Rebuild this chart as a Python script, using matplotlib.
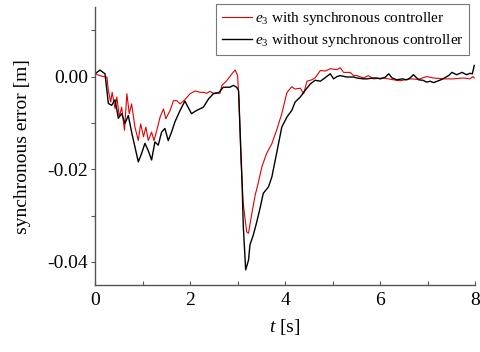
import matplotlib
matplotlib.use("Agg")
import matplotlib.pyplot as plt
from matplotlib.ticker import MultipleLocator

plt.rcParams['font.family'] = ['Liberation Serif', 'DejaVu Serif']
plt.rcParams['mathtext.fontset'] = 'custom'
plt.rcParams['mathtext.rm'] = 'Liberation Serif'
plt.rcParams['mathtext.it'] = 'Liberation Serif:italic'
plt.rcParams['axes.unicode_minus'] = False

# e3 without synchronous controller (black)
t_without = [0, 0.105, 0.21, 0.28, 0.35, 0.42, 0.49, 0.56, 0.63, 0.70, 0.77, 0.84,
             0.91, 0.98, 1.05, 1.12, 1.19, 1.26, 1.33, 1.40, 1.47, 1.54, 1.61, 1.68,
             1.79, 1.89, 2.03, 2.14, 2.28, 2.39, 2.49, 2.60, 2.70, 2.84, 2.91, 2.98,
             3.02, 3.05, 3.09, 3.12, 3.17, 3.23, 3.26, 3.33, 3.40, 3.47, 3.54, 3.65,
             3.72, 3.82, 3.93, 4.04, 4.14, 4.21, 4.32, 4.42, 4.53, 4.63, 4.74, 4.81,
             4.95, 5.02, 5.09, 5.16, 5.30, 5.44, 5.51, 5.65, 5.72, 5.86, 5.93, 6.00,
             6.10, 6.18, 6.25, 6.35, 6.46, 6.56, 6.63, 6.70, 6.81, 6.90, 6.98, 7.05,
             7.12, 7.23, 7.30, 7.37, 7.44, 7.51, 7.61, 7.68, 7.72, 7.82, 7.89, 7.94, 7.98]
e_without = [0.0006, 0.0014, 0.0006, -0.0058, -0.0062, -0.0050, -0.0090, -0.0080,
             -0.0101, -0.0084, -0.0120, -0.0152, -0.0184, -0.0166, -0.0144, -0.0160,
             -0.0180, -0.0141, -0.0148, -0.0120, -0.0112, -0.0138, -0.0120, -0.0098,
             -0.0073, -0.0053, -0.0080, -0.0073, -0.0066, -0.0048, -0.0037, -0.0035,
             -0.0023, -0.0023, -0.0019, -0.0023, -0.0030, -0.0110, -0.0217, -0.0324,
             -0.0417, -0.0396, -0.0363, -0.0342, -0.0315, -0.0285, -0.0252, -0.0238,
             -0.0217, -0.0166, -0.0109, -0.0087, -0.0073, -0.0055, -0.0044, -0.0030,
             -0.0016, -0.0008, -0.0010, -0.0005, 0.0006, -0.0005, 0.0000, 0.0002,
             -0.0001, -0.0001, -0.0003, -0.0005, -0.0005, -0.0003, -0.0003, -0.0005,
             -0.0002, 0.0006, -0.0003, -0.0007, -0.0005, -0.0007, -0.0003, 0.0004,
             -0.0007, -0.0008, -0.0012, -0.0010, -0.0013, -0.0009, -0.0006, -0.0002,
             0.0002, 0.0009, 0.0004, 0.0007, 0.0009, 0.0004, 0.0007, 0.0006, 0.0024]

# e3 with synchronous controller (red)
t_with = [0, 0.10, 0.18, 0.25, 0.28, 0.33, 0.36, 0.42, 0.46, 0.51, 0.56, 0.62, 0.67,
          0.72, 0.77, 0.84, 0.91, 0.96, 1.02, 1.07, 1.12, 1.19, 1.24, 1.30, 1.37,
          1.44, 1.49, 1.58, 1.65, 1.72, 1.79, 1.89, 2.00, 2.11, 2.21, 2.28, 2.35,
          2.42, 2.49, 2.56, 2.63, 2.67, 2.77, 2.88, 2.95, 3.00, 3.03, 3.07, 3.12,
          3.19, 3.23, 3.30, 3.37, 3.44, 3.51, 3.61, 3.72, 3.82, 3.93, 4.04, 4.14,
          4.21, 4.32, 4.39, 4.46, 4.56, 4.63, 4.74, 4.85, 4.95, 5.09, 5.16, 5.23,
          5.37, 5.44, 5.51, 5.65, 5.75, 5.86, 6.07, 6.28, 6.42, 6.63, 6.80, 6.98,
          7.12, 7.33, 7.54, 7.75, 7.89, 7.95, 7.98]
e_with = [0.0006, 0.0002, 0.0000, -0.0001, -0.0030, -0.0055, -0.0034, -0.0069,
          -0.0044, -0.0087, -0.0066, -0.0116, -0.0037, -0.0080, -0.0059, -0.0109,
          -0.0138, -0.0102, -0.0130, -0.0109, -0.0138, -0.0120, -0.0138, -0.0116,
          -0.0087, -0.0070, -0.0091, -0.0073, -0.0052, -0.0052, -0.0059, -0.0050,
          -0.0037, -0.0031, -0.0034, -0.0034, -0.0036, -0.0032, -0.0036, -0.0035,
          -0.0036, -0.0019, -0.0009, 0.0006, 0.0014, 0.0002, -0.0052, -0.0180,
          -0.0274, -0.0335, -0.0338, -0.0295, -0.0256, -0.0227, -0.0195, -0.0166,
          -0.0145, -0.0116, -0.0080, -0.0034, -0.0022, -0.0027, -0.0025, -0.0037,
          -0.0010, -0.0007, -0.0003, 0.0013, 0.0012, 0.0017, 0.0015, 0.0019, 0.0009,
          0.0009, 0.0002, 0.0002, -0.0003, 0.0002, -0.0005, -0.0003, -0.0007,
          -0.0009, -0.0005, -0.0006, 0.0000, -0.0003, -0.0005, -0.0005, -0.0003,
          -0.0005, 0.0000, -0.0003]

fig = plt.figure(figsize=(4.8, 3.52), dpi=100)
ax = fig.add_axes([0.198, 0.19, 0.792, 0.79])

ax.plot(t_with, e_with, color='#e00000', lw=0.8,
        label=r'$e_3$ with synchronous controller')
ax.plot(t_without, e_without, color='black', lw=1.0,
        label=r'$e_3$ without synchronous controller')

ax.set_xlim(0, 8)
ax.set_ylim(-0.045, 0.015)
ax.xaxis.set_major_locator(MultipleLocator(2))
ax.xaxis.set_minor_locator(MultipleLocator(1))
ax.set_yticks([-0.04, -0.02, 0.00])
ax.set_yticklabels(['-0.04', '-0.02', '0.00'])
ax.yaxis.set_minor_locator(MultipleLocator(0.01))

for side in ['top', 'right']:
    ax.spines[side].set_visible(False)
for side in ['left', 'bottom']:
    ax.spines[side].set_color('#555555')
    ax.spines[side].set_linewidth(1.0)

ax.tick_params(axis='both', which='both', colors='#555555', labelcolor='black',
               labelsize=14, length=3, width=0.8)
ax.tick_params(axis='y', which='both', direction='out', pad=2)
ax.tick_params(axis='x', which='both', direction='in', pad=5)

ax.set_xlabel(r'$t$ [s]', fontsize=14, labelpad=6)
ax.set_ylabel('synchronous error [m]', fontsize=14, labelpad=12)

leg = ax.legend(loc='upper right', bbox_to_anchor=(0.985, 1.01), fontsize=11,
                frameon=True, fancybox=False, handlelength=2.0, handletextpad=0.15,
                borderpad=0.4, labelspacing=0.3, borderaxespad=0.0)
leg.get_frame().set_edgecolor('#555555')
leg.get_frame().set_linewidth(0.8)

fig.savefig('out.png', dpi=100)
